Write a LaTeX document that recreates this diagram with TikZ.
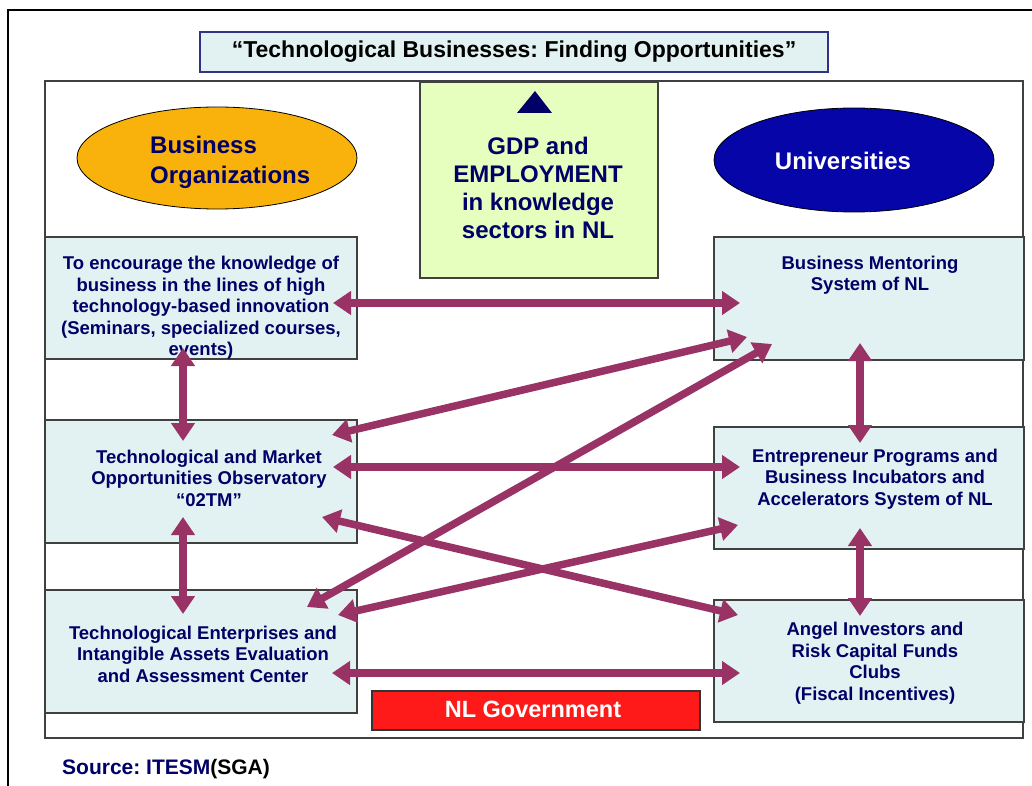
\documentclass[tikz,border=0pt]{standalone}
\usepackage{fontspec}
\setmainfont{Liberation Sans}
\usetikzlibrary{arrows.meta,shapes.geometric}
\frenchspacing

\definecolor{navytext}{HTML}{000066}
\definecolor{plumlink}{HTML}{993366}
\definecolor{boxfill}{HTML}{E2F2F2}
\definecolor{boxline}{HTML}{404040}
\definecolor{orangefill}{HTML}{F9B20C}
\definecolor{bluefill}{HTML}{0505A8}
\definecolor{limefill}{HTML}{E6FFBF}
\definecolor{redfill}{HTML}{FF1A1A}

\tikzset{
  panel/.style={draw=boxline, line width=1.2pt, fill=boxfill, inner sep=0pt,
    minimum width=312pt, minimum height=122pt},
  paneltext/.style={inner sep=0pt, align=center, text=navytext,
    font=\fontsize{18.5}{21.5}\selectfont\bfseries},
  bigtext/.style={inner sep=0pt, text=navytext,
    font=\fontsize{24}{28}\selectfont\bfseries},
  link/.style={draw=plumlink, line width=7.5pt,
    {Triangle[length=18pt,width=23pt]}-{Triangle[length=18pt,width=23pt]}},
}

\begin{document}
\begin{tikzpicture}[x=1pt,y=-1pt]
\useasboundingbox (0,0) rectangle (1032,786);

% page frame
\draw[line width=2.5pt] (8,786) -- (8,10) -- (1032,10);

% title banner
\node[draw=navytext!80, line width=1.2pt, fill=boxfill, inner sep=0pt,
      minimum width=628pt, minimum height=40pt] (title) at (514,52) {};
\node[inner sep=0pt, font=\fontsize{23}{27}\selectfont\bfseries] (titletext) at (514,52)
  {“Technological Businesses: Finding Opportunities”};

% inner frame
\draw[draw=boxline, line width=1.2pt] (45,81) rectangle (1023,738);

% central result box
\node[draw=boxline, line width=1.2pt, fill=limefill, inner sep=0pt,
      minimum width=238pt, minimum height=196pt] (gdp) at (539,180) {};
\fill[navytext] (535,91) -- (517,113) -- (552,113) -- cycle;
\node[bigtext, align=center] (gdptext) at (538,188)
  {GDP and\\EMPLOYMENT\\in knowledge\\sectors in NL};

% actors
\node[ellipse, draw=black, line width=0.8pt, fill=orangefill, inner sep=0pt,
      minimum width=280pt, minimum height=102pt] (biz) at (217,158) {};
\node[bigtext, align=left, anchor=west, font=\fontsize{24}{30}\selectfont\bfseries]
  (biztext) at (150,162) {Business\\Organizations};

\node[ellipse, draw=black, line width=0.8pt, fill=bluefill, inner sep=0pt,
      minimum width=280pt, minimum height=104pt] (uni) at (854,160) {};
\node[bigtext, text=white] (unitext) at (843,161) {Universities};

% left column
\node[panel] (L1) at (201,298) {};
\node[paneltext] (L1text) at (201,308)
  {To encourage the knowledge of\\business in the lines of high\\technology-based innovation\\(Seminars, specialized courses,\\events)};
\node[panel, minimum height=123pt] (L2) at (201,481.5) {};
\node[paneltext] (L2text) at (209,478)
  {Technological and Market\\Opportunities Observatory\\“02TM”};
\node[panel, minimum height=123pt] (L3) at (201,651.5) {};
\node[paneltext] (L3text) at (203,654)
  {Technological Enterprises and\\Intangible Assets Evaluation\\and Assessment Center};

% right column
\node[panel, minimum width=310pt, minimum height=123pt] (R1) at (869,298.5) {};
\node[paneltext] (R1text) at (870,275) {Business Mentoring\\System of NL};
\node[panel, minimum width=310pt] (R2) at (869,488) {};
\node[paneltext] (R2text) at (875,479)
  {Entrepreneur Programs and\\Business Incubators and\\Accelerators System of NL};
\node[panel, minimum width=310pt] (R3) at (869,661) {};
\node[paneltext] (R3text) at (875,663)
  {Angel Investors and\\Risk Capital Funds\\Clubs\\(Fiscal Incentives)};

% government
\node[draw=black!80, line width=1.2pt, fill=redfill, inner sep=0pt,
      minimum width=328pt, minimum height=39pt] (gov) at (536,710.5) {};
\node[inner sep=0pt, text=white, font=\fontsize{23.5}{27}\selectfont\bfseries]
  (govtext) at (533,709) {NL Government};

% source line
\node[inner sep=0pt, anchor=base west, font=\fontsize{21}{25}\selectfont\bfseries]
  (source) at (62,774) {\textcolor{navytext}{Source: ITESM}(SGA)};

% link end points
\coordinate (a1) at (333,303);  \coordinate (b1) at (740,303);
\coordinate (a2) at (183,348);  \coordinate (b2) at (183,441);
\coordinate (a3) at (860,343);  \coordinate (b3) at (860,443);
\coordinate (a4) at (332,435);  \coordinate (b4) at (747,337);
\coordinate (a5) at (307,607);  \coordinate (b5) at (772,344);
\coordinate (a6) at (333,467);  \coordinate (b6) at (740,467);
\coordinate (a7) at (322,517);  \coordinate (b7) at (738,615);
\coordinate (a8) at (338,615);  \coordinate (b8) at (738,525);
\coordinate (a9) at (183,517);  \coordinate (b9) at (183,614);
\coordinate (a10) at (860,528); \coordinate (b10) at (860,616);
\coordinate (a11) at (332,673); \coordinate (b11) at (740,673);

% two-way links
\foreach \i in {1,...,11} {
  \draw[link] (a\i) -- (b\i);
}
\end{tikzpicture}
\end{document}
